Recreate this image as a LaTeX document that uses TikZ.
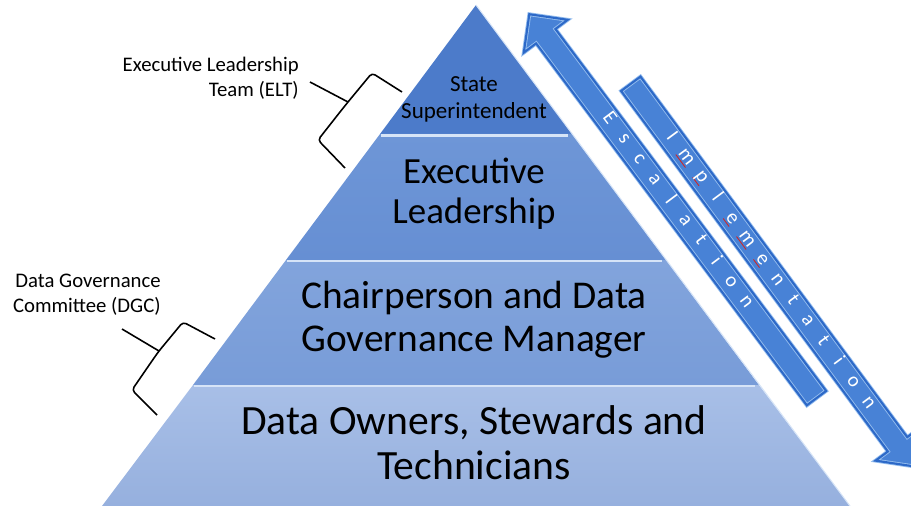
\documentclass[tikz,border=0pt]{standalone}
\usepackage{fontspec}
\setmainfont{Carlito}
\usepackage{tikz}
\usetikzlibrary{shapes.arrows}

\definecolor{tierA}{RGB}{76,123,202}
\definecolor{tierBtop}{RGB}{110,150,215}
\definecolor{tierBbot}{RGB}{102,143,211}
\definecolor{tierCtop}{RGB}{130,164,220}
\definecolor{tierCbot}{RGB}{120,156,216}
\definecolor{tierDtop}{RGB}{168,191,231}
\definecolor{tierDbot}{RGB}{150,176,222}
\definecolor{seam}{RGB}{214,228,247}
\definecolor{arrowfill}{RGB}{72,130,214}
\definecolor{arrowedge}{RGB}{150,190,238}
\definecolor{arrowdark}{RGB}{45,105,200}
\definecolor{squig}{RGB}{205,40,40}

% letter with the red spelling mark
\newcommand\sq[1]{\setbox0\hbox{#1}\rlap{\color{squig}\rule[-1.6pt]{\wd0}{0.5pt}}#1}

\begin{document}
\begin{tikzpicture}[x=0.02cm, y=-0.02cm,
        tiertext/.style 2 args={font=\fontsize{#1}{#2}\selectfont, align=center, inner sep=0pt},
        side/.style={font=\fontsize{11.8}{14.2}\selectfont, align=right, anchor=east, inner sep=0pt},
        flow/.style={shape=single arrow, single arrow tip angle=90,
                     single arrow head extend=8.75pt, single arrow head indent=0pt,
                     minimum height=#1, inner ysep=3.6pt, text height=5pt, text depth=1pt,
                     fill=arrowfill, draw=arrowedge, line width=0.5pt,
                     double=arrowdark, double distance=1.2pt,
                     text=white, font=\fontsize{11.5}{12}\selectfont},
        brace/.style={line width=0.9pt, rounded corners=2pt, line join=round}
                            ]
        \useasboundingbox (0,0) rectangle (911,506);
        % pyramid
        \fill[tierA] (476,5) -- (572,134) -- (380,134) -- cycle;
        \shade[top color=tierBtop, bottom color=tierBbot] (380,134) -- (572,134) -- (666,260) -- (286,260) -- cycle;
        \shade[top color=tierCtop, bottom color=tierCbot] (286,260) -- (666,260) -- (759,385) -- (193,385) -- cycle;
        \shade[top color=tierDtop, bottom color=tierDbot] (193,385) -- (759,385) -- (850,506) -- (102,506) -- cycle;
        \draw[seam, line width=1.6pt] (381,135.5) -- (568,135.5);
        \draw[seam, line width=1.6pt] (287,261) -- (662,261);
        \draw[seam, line width=1.6pt] (194,386) -- (755,386);
        \draw[seam, line width=0.6pt] (476,5) -- (850,506);
        %
        \node[tiertext={13.1}{15.4}] (state) at (474,99) {State\\Superintendent};
        \node[tiertext={21}{22.8}] (exec) at (474,194) {Executive\\Leadership};
        \node[tiertext={22.4}{24.5}] (chair) at (474,320) {Chairperson and Data\\Governance Manager};
        \node[tiertext={23.7}{25.6}] (owners) at (474,443) {Data Owners, Stewards and\\Technicians};
        % arrows
        \node[flow=9.59cm, rotate=-53.2, shape border rotate=180] (esc) at (676.5,211)
            {\foreach \c in {E,s,c,a,l,a,t,i,o,n}{\makebox[0.51cm]{\c}}};
        \node[flow=9.52cm, rotate=-53.5] (impl) at (768.75,270.25)
            {\foreach \c in {I,\sq m,\sq p,l,\sq e,\sq m,\sq e,n,t,a,t,i,o,n}{\makebox[0.51cm]{\c}}};
        % side labels
        \node[side] (elt) at (299,78) {Executive Leadership\\Team (ELT)};
        \node[side] (dgc) at (161,295) {Data Governance\\Committee (DGC)};
        \draw[brace] (402,92) -- (372,73) -- (348,102) -- (340,112) -- (318,140) -- (345,168);
        \draw[brace] (348,102) -- (310,82);
        \draw[brace] (215,339) -- (183,322) -- (159,351) -- (154,358) -- (132,390) -- (157,415);
        \draw[brace] (159,351) -- (122,329);
    \end{tikzpicture}
\end{document}
